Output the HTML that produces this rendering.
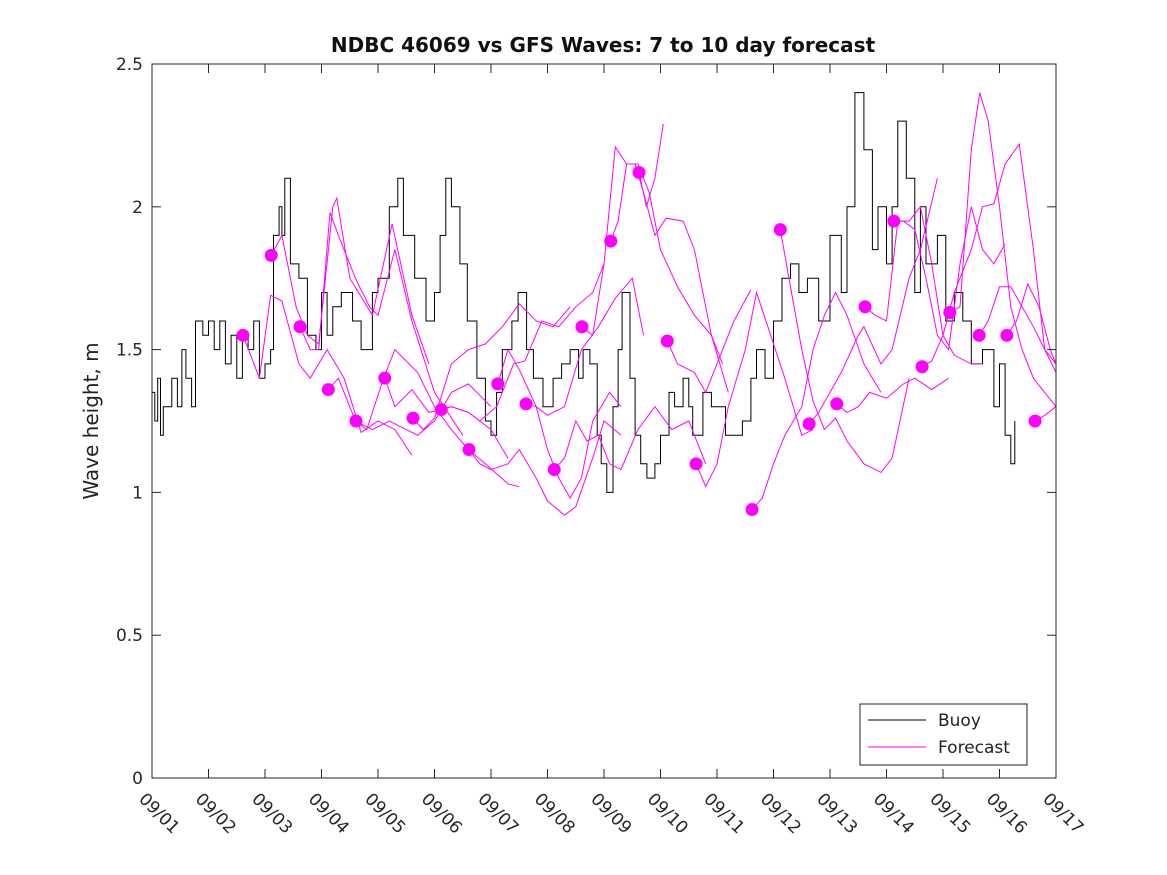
<!DOCTYPE html>
<html><head><meta charset="utf-8"><style>
body{margin:0;background:#fff;}
svg{display:block;font-family:"DejaVu Sans","Liberation Sans",sans-serif;}
</style></head><body>
<svg id="chart" width="1167" height="875" viewBox="0 0 1167 875" xmlns="http://www.w3.org/2000/svg">
<rect width="1167" height="875" fill="#fff"/>
<text x="603" y="52" text-anchor="middle" font-size="20" font-weight="bold" fill="#111">NDBC 46069 vs GFS Waves: 7 to 10 day forecast</text>
<text transform="translate(98,421) rotate(-90)" text-anchor="middle" font-size="20" fill="#222">Wave height, m</text>
<g id="plot"></g>
<g id="axes"></g>
<g>
<rect x="860" y="704" width="167" height="61" fill="#fff" stroke="#222" stroke-width="1"/>
<line x1="868" y1="720" x2="926" y2="720" stroke="#000" stroke-width="1"/>
<text x="938" y="726" font-size="17" fill="#222">Buoy</text>
<line x1="868" y1="747" x2="926" y2="747" stroke="#f0f" stroke-width="1"/>
<text x="938" y="753" font-size="17" fill="#222">Forecast</text>
</g>
</svg>
<script>
const xTicks=["09/01","09/02","09/03","09/04","09/05","09/06","09/07","09/08","09/09","09/10","09/11","09/12","09/13","09/14","09/15","09/16","09/17"];
const yTicks=[0,0.5,1,1.5,2,2.5];
const buoyDays=[0,0.05,0.1,0.15,0.2,0.3,0.35,0.45,0.53,0.6,0.7,0.77,0.9,1.0,1.1,1.2,1.3,1.4,1.5,1.6,1.7,1.8,1.9,2.0,2.1,2.15,2.25,2.3,2.35,2.45,2.6,2.75,2.9,3.0,3.1,3.2,3.35,3.55,3.7,3.9,4.0,4.2,4.35,4.45,4.65,4.85,5.0,5.1,5.2,5.3,5.45,5.58,5.75,5.9,6.0,6.1,6.2,6.37,6.48,6.63,6.75,6.92,7.1,7.25,7.4,7.55,7.63,7.75,7.88,7.95,8.05,8.16,8.25,8.32,8.46,8.55,8.65,8.76,8.9,9.0,9.15,9.25,9.4,9.5,9.57,9.75,9.9,10.0,10.15,10.3,10.45,10.6,10.7,10.85,11.0,11.15,11.3,11.45,11.6,11.8,12.0,12.2,12.3,12.44,12.6,12.75,12.85,13.0,13.1,13.2,13.35,13.5,13.6,13.7,13.9,14.05,14.2,14.35,14.5,14.7,14.9,15.0,15.1,15.2,15.27];
const buoyVals=[1.35,1.25,1.4,1.2,1.3,1.3,1.4,1.3,1.5,1.4,1.3,1.6,1.55,1.6,1.5,1.6,1.45,1.55,1.4,1.55,1.5,1.6,1.4,1.45,1.5,1.9,2.0,1.9,2.1,1.8,1.75,1.55,1.5,1.7,1.55,1.65,1.7,1.6,1.5,1.7,1.75,2.0,2.1,1.9,1.75,1.6,1.7,1.9,2.1,2.0,1.8,1.6,1.4,1.25,1.2,1.35,1.5,1.6,1.7,1.5,1.4,1.3,1.4,1.45,1.5,1.4,1.5,1.45,1.2,1.1,1.0,1.3,1.5,1.7,1.4,1.2,1.1,1.05,1.1,1.2,1.35,1.3,1.4,1.3,1.2,1.35,1.3,1.3,1.2,1.2,1.25,1.4,1.5,1.4,1.6,1.75,1.8,1.7,1.75,1.6,1.9,1.7,2.0,2.4,2.2,1.85,2.0,1.8,2.0,2.3,2.1,1.7,2.0,1.8,1.9,1.6,1.7,1.6,1.45,1.5,1.3,1.45,1.2,1.1,1.25];
const fDays=[
[1.61,1.9,2.1,2.3,2.6,2.8,3.1,3.4,3.7,4.0,4.3,4.6],
[2.11,2.3,2.55,2.75,2.95,3.2,3.27,3.5,3.9,4.25,4.6,4.9],
[2.62,2.8,2.95,3.15,3.3,3.6,3.85,4.0,4.3,4.6,5.0,5.5],
[3.12,3.3,3.6,3.9,4.2,4.5,4.7,5.0,5.3,5.6,6.0],
[3.61,3.8,4.1,4.3,4.7,5.0,5.3,5.6,5.9,6.3,6.5],
[4.12,4.3,4.6,4.9,5.3,5.6,6.0,6.3],
[4.62,4.8,5.0,5.3,5.6,5.9,6.2,6.5,6.8,7.1,7.4],
[5.12,5.3,5.6,5.8,6.1,6.4,6.6,6.9,7.2,7.5,7.8,8.0],
[5.61,5.8,6.0,6.3,6.5,6.8,7.0,7.3,7.5,7.8,8.0,8.3],
[6.12,6.3,6.5,6.8,7.0,7.2,7.4,7.6,7.8,8.1,8.3],
[6.62,6.8,7.0,7.3,7.6,7.9,8.2,8.5,8.7],
[7.12,7.3,7.5,7.7,7.9,8.1,8.3,8.6,8.9,9.2,9.5,9.8],
[7.61,7.8,8.0,8.2,8.4,8.6,8.8,9.0,9.3,9.6,9.9,10.2],
[8.12,8.25,8.4,8.55,8.7,8.9,9.1,9.4,9.6,9.9,10.1],
[8.62,8.75,8.9,9.05],
[9.12,9.3,9.6,9.8,10.1,10.3,10.6],
[9.63,9.8,10.0,10.2,10.5,10.7,10.9,11.2,11.5,11.7],
[10.62,10.8,11.0,11.2,11.5,11.7,11.9,12.1,12.3,12.6,12.9],
[11.12,11.3,11.5,11.7,11.9,12.1,12.3,12.6,12.9,13.1,13.4],
[11.63,11.8,12.0,12.2,12.5,12.6,12.9,13.1,13.4,13.6,13.9],
[12.12,12.3,12.5,12.7,13.0,13.3,13.5,13.8,14.1],
[12.62,12.8,13.0,13.2,13.4,13.6,13.8,14.0,14.2,14.5,14.7],
[13.13,13.3,13.5,13.7,13.9,14.1,14.3,14.5,14.7,14.9,15.1],
[13.63,13.8,14.0,14.2,14.5,14.7,14.9,15.1,15.35,15.6,15.8,16.0],
[14.12,14.3,14.5,14.65,14.8,15.0,15.2,15.4,15.6,15.8,16.0],
[14.64,14.8,15.0,15.2,15.4,15.6,15.8,16.0],
[15.13,15.3,15.5,15.7,15.9,16.0],
[15.63,15.8,16.0]];
const fVals=[
[1.55,1.40,1.69,1.67,1.45,1.40,1.50,1.40,1.21,1.25,1.22,1.13],
[1.83,1.90,1.65,1.55,1.52,2.00,2.03,1.75,1.62,1.94,1.62,1.45],
[1.58,1.50,1.50,1.98,1.90,1.75,1.65,1.62,1.85,1.60,1.35,1.20],
[1.36,1.40,1.25,1.22,1.25,1.22,1.20,1.25,1.35,1.38,1.30],
[1.25,1.22,1.40,1.50,1.42,1.30,1.22,1.15,1.10,1.03,1.02],
[1.40,1.30,1.36,1.28,1.30,1.28,1.22,1.12],
[1.26,1.22,1.26,1.45,1.50,1.52,1.58,1.66,1.60,1.58,1.65],
[1.29,1.30,1.28,1.25,1.30,1.45,1.46,1.60,1.58,1.65,1.70,1.80],
[1.15,1.10,1.08,1.10,1.15,1.05,0.97,0.92,0.95,1.12,1.25,1.20],
[1.38,1.50,1.43,1.30,1.15,1.05,0.98,1.05,1.25,1.35,1.30],
[1.31,1.30,1.27,1.30,1.50,1.58,1.68,1.75,1.55],
[1.08,1.12,1.25,1.18,1.20,1.10,1.08,1.22,1.30,1.22,1.25,1.10],
[1.58,1.55,1.80,2.21,2.15,2.15,2.05,1.85,1.72,1.62,1.55,1.35],
[1.88,1.95,2.15,2.15,2.05,1.90,1.96,1.95,1.85,1.55,1.45],
[2.12,2.00,2.10,2.29],
[1.53,1.45,1.42,1.35,1.50,1.60,1.71],
[1.10,1.02,1.10,1.30,1.50,1.70,1.58,1.40,1.20,1.22],
[0.94,0.98,1.10,1.20,1.30,1.50,1.62,1.70,1.62,1.45,1.35],
[1.92,1.72,1.50,1.32,1.22,1.26,1.18,1.10,1.07,1.12,1.40],
[1.24,1.28,1.35,1.42,1.55,1.58,1.45,1.50,1.75,1.85,2.10],
[1.31,1.28,1.30,1.35,1.33,1.38,1.40,1.36,1.40],
[1.65,1.62,1.60,1.95,1.95,2.00,1.80,1.55,1.48,1.45,1.45],
[1.95,1.95,1.92,1.75,1.55,1.50,1.80,2.00,1.85,1.80,1.87],
[1.44,1.46,1.55,1.70,1.85,2.00,2.01,2.15,2.22,1.85,1.50,1.45],
[1.63,1.65,2.20,2.40,2.30,2.00,1.65,1.50,1.40,1.35,1.30],
[1.55,1.60,1.72,1.72,1.65,1.58,1.50,1.42],
[1.55,1.60,1.73,1.65,1.50,1.45],
[1.25,1.27,1.30]];
const X0=152,X1=1056,Y0=778,Y1=64,DAYS=16,YMAX=2.5;
const xs=d=>X0+(X1-X0)*d/DAYS, ys=v=>Y0-(Y0-Y1)*v/YMAX;
const NS="http://www.w3.org/2000/svg";
function mk(tag,attrs,parent){const e=document.createElementNS(NS,tag);for(const k in attrs)e.setAttribute(k,attrs[k]);parent.appendChild(e);return e;}
const plot=document.getElementById('plot'),axes=document.getElementById('axes');
// buoy as staircase
let pts=[];
buoyDays.forEach((d,i)=>{
  pts.push(xs(d).toFixed(1)+","+ys(buoyVals[i]).toFixed(1));
  if(i<buoyDays.length-1) pts.push(xs(buoyDays[i+1]).toFixed(1)+","+ys(buoyVals[i]).toFixed(1));
});
const bl=mk('polyline',{points:pts.join(" "),fill:'none',stroke:'#000','stroke-width':1},plot);


fDays.forEach((ds,j)=>{
  const p=ds.map((d,i)=>xs(d).toFixed(1)+","+ys(fVals[j][i]).toFixed(1)).join(" ");
  const l=mk('polyline',{points:p,fill:'none',stroke:'#f0f','stroke-width':1},plot);
  
  
});
fDays.forEach((ds,j)=>{
  const c=mk('circle',{cx:xs(ds[0]),cy:ys(fVals[j][0]),r:6.5,fill:'#f0f'},plot);
  
  
});
const fr=mk('rect',{x:X0,y:Y1,width:X1-X0,height:Y0-Y1,fill:'none',stroke:'#262626','stroke-width':1},axes);


xTicks.forEach((t,i)=>{
  const x=xs(i);
  mk('line',{x1:x,y1:Y0,x2:x,y2:Y0-9,stroke:'#262626'},axes);
  mk('line',{x1:x,y1:Y1,x2:x,y2:Y1+9,stroke:'#262626'},axes);
  const tx=mk('text',{transform:`translate(${x-14},${Y0+22}) rotate(45)`,'font-size':17,fill:'#262626'},axes);
  tx.textContent=t;
  
  
});
yTicks.forEach(v=>{
  const y=ys(v);
  mk('line',{x1:X0,y1:y,x2:X0+9,y2:y,stroke:'#262626'},axes);
  mk('line',{x1:X1,y1:y,x2:X1-9,y2:y,stroke:'#262626'},axes);
  const tx=mk('text',{x:X0-9,y:y+6,'text-anchor':'end','font-size':17,fill:'#262626'},axes);
  tx.textContent=String(v);
  
  
});
</script>
</body></html>
